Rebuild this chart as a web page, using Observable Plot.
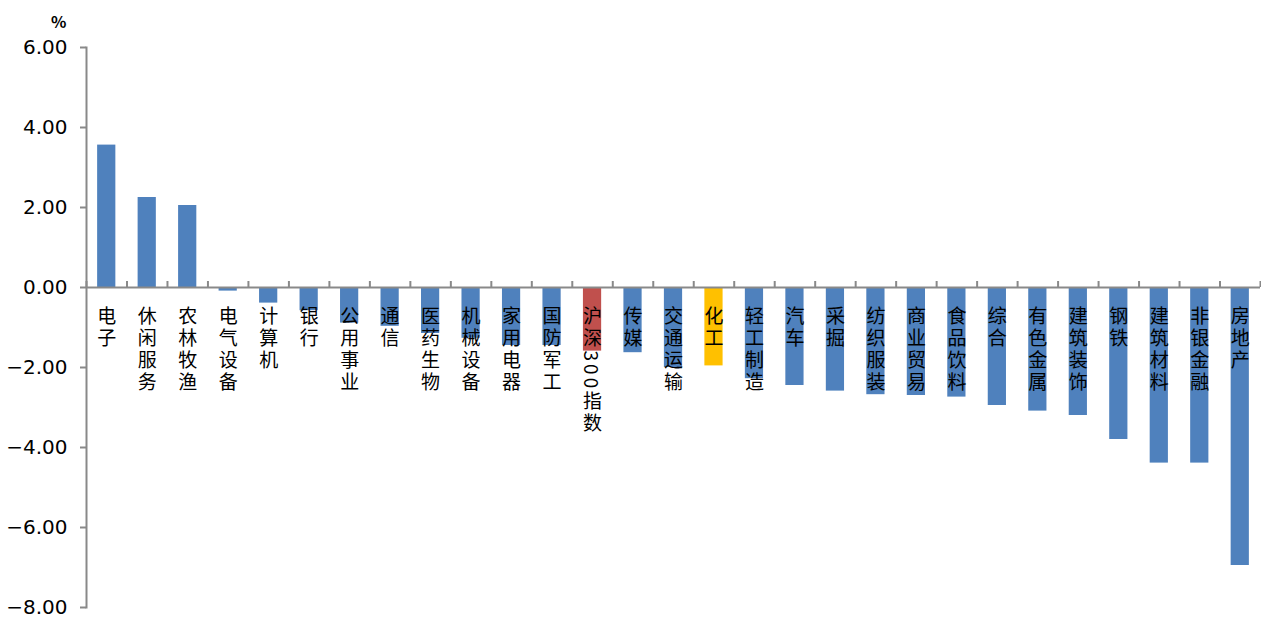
<!DOCTYPE html>
<html>
<head>
<meta charset="utf-8">
<script src="https://cdn.jsdelivr.net/npm/d3@7"></script>
<script src="https://cdn.jsdelivr.net/npm/@observablehq/plot@0.6"></script>
<style>
  html, body { margin: 0; padding: 0; background: #fff; }
  #chart { position: relative; width: 1261px; height: 618px; }
  #unit { position: absolute; left: 51px; top: 9px; font: 600 16px "Noto Sans CJK SC", sans-serif; color: #000; }
</style>
</head>
<body>
<div id="chart"><div id="unit">%</div></div>
<script>
const categories = ["电子","休闲服务","农林牧渔","电气设备","计算机","银行","公用事业","通信","医药生物","机械设备","家用电器","国防军工","沪深300指数","传媒","交通运输","化工","轻工制造","汽车","采掘","纺织服装","商业贸易","食品饮料","综合","有色金属","建筑装饰","钢铁","建筑材料","非银金融","房地产"];
const values = [3.56, 2.25, 2.05, -0.09, -0.39, -0.58, -0.89, -0.97, -1.15, -1.27, -1.45, -1.45, -1.59, -1.63, -2.0, -1.96, -2.28, -2.45, -2.59, -2.68, -2.70, -2.74, -2.95, -3.09, -3.20, -3.80, -4.39, -4.39, -6.95];
const highlight = {"沪深300指数": "#C0504D", "化工": "#FFC000"};
const yTicks = [6, 4, 2, 0, -2, -4, -6, -8];

const data = categories.map((c, i) => ({category: c, value: values[i]}));
const W = 1261, H = 618, mL = 86, mR = 1, mT = 47, mB = 11;
const step = (W - mL - mR) / categories.length;
const pxPerUnit = (H - mT - mB) / (yTicks[0] - yTicks[yTicks.length - 1]);
const tickLen = 6 / pxPerUnit;
const axisColor = "#898989";

const chart = Plot.plot({
  width: W, height: H,
  marginLeft: mL, marginRight: mR, marginTop: mT, marginBottom: mB,
  style: {fontFamily: "'Noto Sans CJK SC', sans-serif", background: "#fff", overflow: "visible"},
  x: {type: "band", domain: categories, paddingInner: 0.55, paddingOuter: 0.275, round: false, axis: null},
  y: {domain: [-8, 6], ticks: yTicks},
  marks: [
    Plot.barY(data, {x: "category", y: "value", fill: d => highlight[d.category] || "#4F81BD"}),
    Plot.ruleY([0], {stroke: axisColor, strokeWidth: 2}),
    Plot.ruleX(categories, {x: d => d, y1: 0, y2: tickLen, dx: -step / 2, stroke: axisColor, strokeWidth: 2}),
    Plot.ruleX(categories.slice(-1), {x: d => d, y1: 0, y2: tickLen, dx: step / 2, stroke: axisColor, strokeWidth: 2}),
    Plot.frame({anchor: "left", stroke: axisColor, strokeWidth: 2}),
    Plot.axisY({ticks: yTicks, tickSize: 6, tickPadding: 13, tickFormat: d3.format(".2f"), stroke: axisColor, strokeWidth: 2, fontSize: 20, fill: "#000", label: null, fontFamily: "'DejaVu Sans', sans-serif"}),
    Plot.text(data, {x: "category", y: 0, text: "category", dy: 13, textAnchor: "start", fontSize: 19, fill: "#000", className: "catlab"})
  ]
});
document.getElementById("chart").appendChild(chart);
d3.select(chart).selectAll(".catlab text")
  .attr("dy", null)
  .style("writing-mode", "vertical-rl")
  .style("letter-spacing", "3px");
</script>
</body>
</html>
